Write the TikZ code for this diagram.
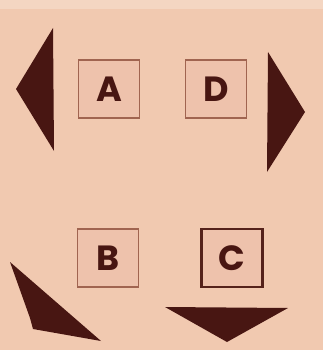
\documentclass[tikz,border=0pt]{standalone}
\usepackage{fontspec}
\setmainfont{Poppins}
\definecolor{bg}{RGB}{241,201,176}
\definecolor{bgtop}{RGB}{244,214,194}
\definecolor{ink}{RGB}{72,22,18}
\definecolor{frame}{RGB}{160,100,80}
\definecolor{boxfill}{RGB}{238,194,172}
\tikzset{
  letterbox/.style={draw=frame, line width=1.4pt, fill=boxfill, minimum width=61pt, minimum height=58pt, inner sep=0pt, font=\fontsize{35}{35}\selectfont\bfseries, text=ink},
  darkbox/.style={letterbox, draw=ink!85!frame, line width=2.2pt},
  pointer/.style={fill=ink, draw=none}
}
\begin{document}
\begin{tikzpicture}[x=1pt,y=-1pt]
\useasboundingbox (0,0) rectangle (323,350);
\fill[bg] (0,0) rectangle (323,350);
\fill[bgtop] (0,0) rectangle (323,9);
\node[letterbox] (A) at (109,89) {A};
\node[letterbox] (D) at (216,89) {D};
\node[letterbox] (B) at (108,258) {B};
\node[darkbox] (C) at (232,258) {C};
\fill[pointer] (53,28) -- (16,89) -- (54,151) -- cycle;
\fill[pointer] (268,52) -- (305,112) -- (267,172) -- cycle;
\fill[pointer] (10,262) -- (30,318) -- (33,329) -- (101,341) -- cycle;
\fill[pointer] (165,307) -- (288,308) -- (227,342) -- cycle;
\end{tikzpicture}
\end{document}
